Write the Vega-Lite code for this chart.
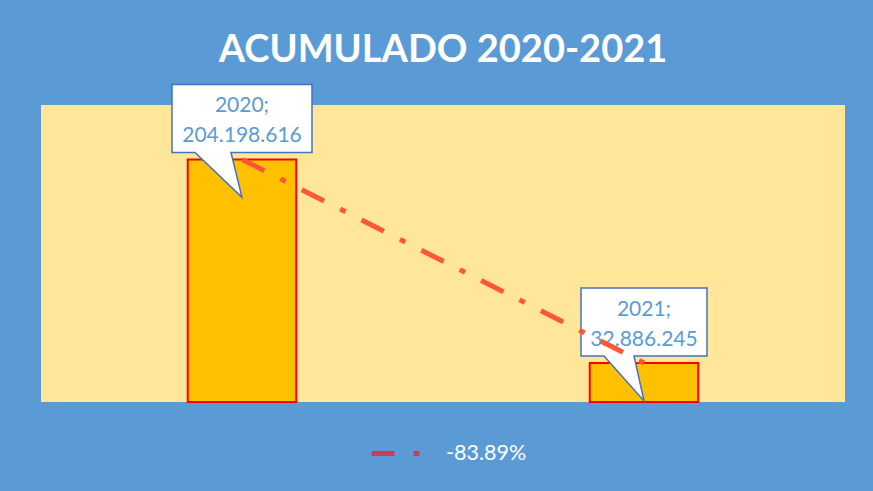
{
  "$schema": "https://vega.github.io/schema/vega-lite/v6.json",
  "width": 804,
  "height": 297,
  "autosize": {"type": "none"},
  "padding": {"left": 41, "top": 105, "right": 28, "bottom": 89},
  "background": "#5B9BD5",
  "title": {
    "text": "ACUMULADO 2020-2021",
    "color": "white",
    "font": "Lato",
    "fontSize": 38,
    "fontWeight": "bold",
    "anchor": "middle",
    "frame": "group",
    "offset": 11
  },
  "config": {"view": {"fill": "#FFE699", "stroke": null}},
  "data": {
    "values": [
      {"anio": "2020", "valor": 204198616, "etiqueta": "2020;\n204.198.616"},
      {"anio": "2021", "valor": 32886245, "etiqueta": "2021;\n32.886.245"}
    ]
  },
  "encoding": {
    "x": {"field": "anio", "type": "nominal", "axis": null, "scale": {"paddingInner": 0.73, "paddingOuter": 0.365}},
    "y": {"field": "valor", "type": "quantitative", "axis": null, "scale": {"domain": [0, 250000000], "nice": false}}
  },
  "layer": [
    {"mark": {"type": "bar", "fill": "#FFC000", "stroke": "#FF0000", "strokeWidth": 2}},
    {
      "transform": [{"filter": "datum.anio == '2020'"}],
      "mark": {"type": "point", "shape": "M-70,-75H70V-7H-11L0,38L-47,-7H-70Z", "size": 4, "filled": true, "fill": "white", "stroke": "#4472C4", "strokeWidth": 1.5, "opacity": 1}
    },
    {
      "transform": [{"filter": "datum.anio == '2021'"}],
      "mark": {"type": "point", "shape": "M-63,-75H63V-7H-10L0,38L-40,-7H-63Z", "size": 4, "filled": true, "fill": "white", "stroke": "#4472C4", "strokeWidth": 1.5, "opacity": 1}
    },
    {
      "mark": {"type": "text", "font": "Lato", "fontSize": 21, "color": "#5B9BD5", "lineHeight": 30, "lineBreak": "\n", "baseline": "middle", "dy": -53},
      "encoding": {"text": {"field": "etiqueta", "type": "nominal"}}
    },
    {
      "mark": {"type": "line", "stroke": "#FF5733", "strokeWidth": 5, "strokeDash": [25, 18, 6, 18]},
      "encoding": {}
    },
    {
      "transform": [{"filter": "false"}],
      "mark": {"type": "line", "strokeWidth": 5, "strokeDash": [23, 19, 6, 18]},
      "encoding": {
        "color": {
          "datum": "-83.89%",
          "type": "nominal",
          "scale": {"range": ["#C8404F"]},
          "legend": {
            "orient": "none",
            "legendX": 350,
            "legendY": 335,
            "title": null,
            "padding": 0,
            "symbolType": "M-3,0H3",
            "symbolSize": 484,
            "symbolStrokeWidth": 5,
            "symbolDash": [23, 19, 6, 18],
            "symbolFillColor": "transparent",
            "labelColor": "white",
            "labelFont": "Lato",
            "labelFontSize": 21.5,
            "labelOffset": 28
          }
        }
      }
    }
  ]
}
